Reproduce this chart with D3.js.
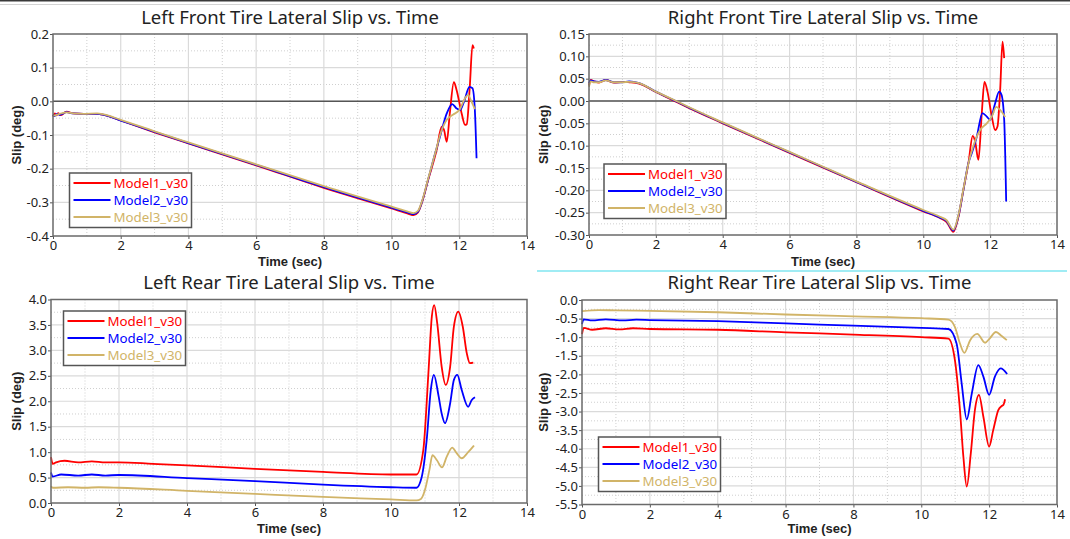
<!DOCTYPE html>
<html>
<head>
<meta charset="utf-8">
<script src="https://cdn.jsdelivr.net/npm/d3@7"></script>
<style>
	body { margin: 0; background: #fff; }
	svg { display: block; font-family: "Noto Sans", sans-serif; }
	.title { font-size: 18.5px; fill: #222; }
	.tick text { font-size: 13px; fill: #222; font-family: "Noto Sans", sans-serif; }
	.tick line { stroke: #555; }
	.axisTitle { font-family: "Liberation Sans", Arial, sans-serif; font-weight: bold; font-size: 13px; fill: #222; }
	.gridMajor { stroke: #dadada; stroke-width: 1.2; }
	.gridMinor { stroke: #cfcfcf; stroke-dasharray: 1, 2; }
	.zeroLine { stroke: #555; stroke-width: 1.5; }
	.frame { fill: none; stroke: #6a6a6a; stroke-width: 1.5; }
	.legendBox { fill: #fff; stroke: #555; stroke-width: 1.5; }
	.legendText { font-size: 13.3px; }
	.curve { fill: none; stroke-width: 1.8; }
</style>
</head>
<body>
<svg id="chart" width="1070" height="539"></svg>
<script>
var seriesNames = ["Model1_v30", "Model2_v30", "Model3_v30"];
var seriesColours = ["#ff0000", "#0000ff", "#d1b468"];
var timeTicks = [0, 2, 4, 6, 8, 10, 12, 14];

// [time (sec), slip (deg)]

// left front
var lfModel1 = [[0,-0.045],[0.05,-0.036],[0.1,-0.042],[0.15,-0.035],[0.22,-0.041],[0.4,-0.031],[0.6,-0.036],[0.9,-0.037],[1.3,-0.037],[1.5,-0.04],[2,-0.057],[3,-0.092],[4,-0.125],[6,-0.19],[8,-0.257],[10,-0.318],[10.5,-0.334],[10.65,-0.338],[10.78,-0.33],[10.9,-0.3],[11.08,-0.234],[11.33,-0.145],[11.48,-0.075],[11.55,-0.085],[11.63,-0.12],[11.72,-0.036],[11.84,0.057],[11.92,0.034],[12.07,-0.036],[12.17,-0.07],[12.22,-0.068],[12.31,0.043],[12.39,0.167],[12.43,0.157]];
var lfModel2 = [[0,-0.04],[0.05,-0.044],[0.1,-0.038],[0.2,-0.04],[0.4,-0.032],[0.6,-0.036],[0.9,-0.037],[1.3,-0.037],[1.5,-0.04],[2,-0.057],[3,-0.091],[4,-0.124],[6,-0.189],[8,-0.255],[10,-0.316],[10.5,-0.331],[10.65,-0.335],[10.78,-0.328],[10.9,-0.298],[11.08,-0.232],[11.3,-0.15],[11.43,-0.105],[11.63,-0.036],[11.79,-0.008],[11.92,-0.021],[12.02,-0.026],[12.14,-0.001],[12.3,0.043],[12.39,0.039],[12.46,-0.026],[12.51,-0.169]];
var lfModel3 = [[0,-0.043],[0.1,-0.04],[0.4,-0.033],[0.6,-0.036],[0.9,-0.037],[1.3,-0.036],[1.5,-0.039],[2,-0.055],[3,-0.089],[4,-0.122],[6,-0.187],[8,-0.252],[10,-0.313],[10.5,-0.328],[10.65,-0.332],[10.78,-0.325],[10.9,-0.296],[11.08,-0.23],[11.3,-0.15],[11.45,-0.095],[11.63,-0.055],[11.81,-0.04],[12.0,-0.026],[12.2,0.014],[12.26,0.019],[12.36,-0.001],[12.46,-0.023]];

// right front
var rfModel1 = [[0,0.035],[0.05,0.047],[0.15,0.044],[0.3,0.041],[0.5,0.047],[0.75,0.041],[1.0,0.043],[1.2,0.042],[1.5,0.039],[2,0.02],[2.5,0.002],[3,-0.016],[4,-0.05],[6,-0.116],[8,-0.182],[10,-0.247],[10.5,-0.262],[10.7,-0.271],[10.9,-0.293],[11.05,-0.26],[11.2,-0.199],[11.35,-0.139],[11.48,-0.078],[11.55,-0.09],[11.65,-0.132],[11.75,-0.027],[11.83,0.043],[11.92,0.021],[12.05,-0.035],[12.15,-0.065],[12.22,-0.057],[12.3,0.025],[12.37,0.133],[12.42,0.096]];
var rfModel2 = [[0,0.04],[0.05,0.046],[0.15,0.044],[0.3,0.043],[0.5,0.047],[0.75,0.042],[1.0,0.042],[1.2,0.044],[1.5,0.04],[2,0.021],[2.5,0.003],[3,-0.015],[4,-0.049],[6,-0.115],[8,-0.181],[10,-0.246],[10.5,-0.261],[10.7,-0.269],[10.9,-0.29],[11.05,-0.258],[11.2,-0.199],[11.35,-0.139],[11.45,-0.117],[11.6,-0.08],[11.77,-0.027],[11.9,-0.035],[12.0,-0.042],[12.15,-0.005],[12.27,0.021],[12.34,0.014],[12.42,-0.042],[12.48,-0.225]];
var rfModel3 = [[0,0.032],[0.05,0.044],[0.15,0.042],[0.3,0.042],[0.5,0.046],[0.75,0.042],[1.0,0.042],[1.2,0.043],[1.5,0.04],[2,0.021],[2.5,0.004],[3,-0.014],[4,-0.048],[6,-0.114],[8,-0.18],[10,-0.244],[10.5,-0.259],[10.7,-0.267],[10.9,-0.288],[11.05,-0.256],[11.2,-0.197],[11.35,-0.14],[11.5,-0.1],[11.7,-0.065],[11.9,-0.05],[12.05,-0.035],[12.18,-0.013],[12.3,-0.02],[12.45,-0.036]];

// left rear
var lrModel1 = [[0,0.9],[0.05,0.77],[0.15,0.8],[0.4,0.83],[0.8,0.8],[1.2,0.82],[1.6,0.8],[2,0.8],[3,0.77],[4,0.74],[6,0.67],[8,0.61],[10,0.56],[10.75,0.56],[10.95,1.04],[11.1,2.55],[11.2,3.66],[11.27,3.89],[11.36,3.53],[11.49,2.68],[11.61,2.32],[11.74,2.68],[11.85,3.47],[11.98,3.76],[12.11,3.47],[12.23,2.94],[12.32,2.75],[12.42,2.76]];
var lrModel2 = [[0,0.6],[0.05,0.52],[0.3,0.56],[0.8,0.54],[1.2,0.56],[1.6,0.54],[2,0.55],[4,0.49],[6,0.43],[8,0.36],[10,0.31],[10.75,0.3],[10.9,0.5],[11.05,1.24],[11.17,2.22],[11.26,2.52],[11.4,2.1],[11.49,1.76],[11.59,1.57],[11.74,1.96],[11.85,2.42],[11.95,2.52],[12.08,2.22],[12.27,1.89],[12.37,2.02],[12.47,2.08]];
var lrModel3 = [[0,0.33],[0.05,0.3],[0.5,0.31],[1,0.3],[1.4,0.31],[2,0.3],[4,0.24],[6,0.18],[8,0.12],[10,0.07],[10.75,0.05],[10.88,0.08],[11.0,0.26],[11.13,0.65],[11.22,0.94],[11.35,0.84],[11.5,0.7],[11.64,0.91],[11.8,1.09],[11.93,0.98],[12.08,0.88],[12.27,1.0],[12.44,1.13]];

// right rear
var rrModel1 = [[0,-0.92],[0.05,-0.75],[0.3,-0.8],[0.7,-0.76],[1.1,-0.79],[1.5,-0.76],[2,-0.78],[4,-0.8],[6,-0.87],[8,-0.93],[10,-1.0],[10.8,-1.04],[10.99,-1.61],[11.14,-2.96],[11.24,-4.21],[11.34,-5.02],[11.46,-4.12],[11.58,-2.96],[11.7,-2.55],[11.83,-3.14],[12.0,-3.94],[12.12,-3.5],[12.27,-2.96],[12.37,-2.85],[12.42,-2.82],[12.47,-2.67]];
var rrModel2 = [[0,-0.65],[0.05,-0.52],[0.3,-0.55],[0.7,-0.52],[1.2,-0.55],[1.6,-0.53],[2,-0.54],[4,-0.57],[6,-0.63],[8,-0.69],[10,-0.75],[10.8,-0.78],[11.04,-1.17],[11.19,-2.24],[11.34,-3.21],[11.49,-2.51],[11.68,-1.75],[11.83,-2.06],[12.0,-2.55],[12.17,-2.06],[12.34,-1.84],[12.53,-1.99]];
var rrModel3 = [[0,-0.3],[0.5,-0.27],[1,-0.28],[2,-0.29],[4,-0.33],[6,-0.39],[8,-0.44],[10,-0.49],[10.8,-0.53],[10.99,-0.72],[11.14,-1.17],[11.27,-1.42],[11.44,-1.08],[11.65,-0.91],[11.88,-1.15],[12.02,-1.03],[12.2,-0.86],[12.37,-0.97],[12.52,-1.08]];

var panels = [
	{ title: "Left Front Tire Lateral Slip vs. Time", series: [lfModel1, lfModel2, lfModel3],
	  yMin: -0.4, yMax: 0.2, yStep: 0.1, yFmt: ".1f", zeroLine: true,
	  left: 53, right: 527, top: 34, bottom: 236, titleY: 23.5, xTitleY: 265.5, yTitleX: 21, legendX: 69.5, legendY: 173 },
	{ title: "Right Front Tire Lateral Slip vs. Time", series: [rfModel1, rfModel2, rfModel3],
	  yMin: -0.3, yMax: 0.15, yStep: 0.05, yFmt: ".2f", zeroLine: true,
	  left: 589, right: 1057, top: 34, bottom: 235, titleY: 23.5, xTitleY: 265.5, yTitleX: 548, legendX: 604, legendY: 164 },
	{ title: "Left Rear Tire Lateral Slip vs. Time", series: [lrModel1, lrModel2, lrModel3],
	  yMin: 0, yMax: 4, yStep: 0.5, yFmt: ".1f", zeroLine: false,
	  left: 51, right: 527, top: 299.5, bottom: 503, titleY: 289, xTitleY: 533, yTitleX: 21, legendX: 63.5, legendY: 311 },
	{ title: "Right Rear Tire Lateral Slip vs. Time", series: [rrModel1, rrModel2, rrModel3],
	  yMin: -5.5, yMax: 0, yStep: 0.5, yFmt: ".1f", zeroLine: false,
	  left: 582, right: 1057, top: 300, bottom: 504.5, titleY: 289, xTitleY: 533, yTitleX: 548, legendX: 598.5, legendY: 437 }
];

var locale = d3.formatLocale({ decimal: ".", thousands: ",", grouping: [3], currency: ["", ""], minus: "-" });

var svg = d3.select("#chart");

svg.append("rect").attr("width", 1070).attr("height", 539).attr("fill", "#fff");

// window chrome bits along the top and the panel separator
svg.append("line").attr("x1", 0).attr("x2", 1070).attr("y1", 0.75).attr("y2", 0.75)
	.attr("stroke", "#3a3a3a").attr("stroke-width", 1.5);
svg.append("line").attr("x1", 0).attr("x2", 1070).attr("y1", 4.5).attr("y2", 4.5)
	.attr("stroke", "#d4d4d4").attr("stroke-width", 1);
svg.append("line").attr("x1", 537).attr("x2", 1067).attr("y1", 271).attr("y2", 271)
	.attr("stroke", "#80e6f0").attr("stroke-width", 1.5);

panels.forEach(drawPanel);

function drawPanel(p) {
	var g = svg.append("g");

	var x = d3.scaleLinear().domain([0, 14]).range([p.left, p.right]);
	var y = d3.scaleLinear().domain([p.yMin, p.yMax]).range([p.bottom, p.top]);

	var nSteps = Math.round((p.yMax - p.yMin) / p.yStep);
	var yTicks = d3.range(nSteps + 1).map(i => +(p.yMin + i * p.yStep).toFixed(4));
	var yMinor = d3.range(nSteps).map(i => p.yMin + (i + 0.5) * p.yStep);
	var xMinor = d3.range(1, 14, 2);

	// grid
	g.selectAll(".xMinor").data(xMinor).enter().append("line")
		.classed("gridMinor", true)
		.attr("x1", d => x(d)).attr("x2", d => x(d))
		.attr("y1", p.top).attr("y2", p.bottom);
	g.selectAll(".yMinor").data(yMinor).enter().append("line")
		.classed("gridMinor", true)
		.attr("x1", p.left).attr("x2", p.right)
		.attr("y1", d => y(d)).attr("y2", d => y(d));
	g.selectAll(".xMajor").data(timeTicks.slice(1, -1)).enter().append("line")
		.classed("gridMajor", true)
		.attr("x1", d => x(d)).attr("x2", d => x(d))
		.attr("y1", p.top).attr("y2", p.bottom);
	g.selectAll(".yMajor").data(yTicks.slice(1, -1)).enter().append("line")
		.classed("gridMajor", true)
		.attr("x1", p.left).attr("x2", p.right)
		.attr("y1", d => y(d)).attr("y2", d => y(d));

	if (p.zeroLine) {
		g.append("line").classed("zeroLine", true)
			.attr("x1", p.left).attr("x2", p.right)
			.attr("y1", y(0)).attr("y2", y(0));
	}

	// axes
	var yAxis = g.append("g")
		.attr("transform", "translate(" + p.left + ",0)")
		.call(d3.axisLeft(y).tickValues(yTicks).tickFormat(locale.format(p.yFmt)).tickSize(3).tickPadding(1));
	yAxis.select(".domain").remove();

	var xAxis = g.append("g")
		.attr("transform", "translate(0," + p.bottom + ")")
		.call(d3.axisBottom(x).tickValues(timeTicks).tickFormat(locale.format("d")).tickSize(3).tickPadding(2));
	xAxis.select(".domain").remove();

	// curves
	var line = d3.line()
		.x(d => x(d[0]))
		.y(d => y(d[1]))
		.curve(d3.curveMonotoneX);

	g.selectAll(".curve").data(p.series).enter().append("path")
		.classed("curve", true)
		.attr("d", line)
		.style("stroke", (d, i) => seriesColours[i]);

	g.append("rect").classed("frame", true)
		.attr("x", p.left).attr("y", p.top)
		.attr("width", p.right - p.left).attr("height", p.bottom - p.top);

	// titles
	g.append("text").classed("title", true)
		.attr("x", (p.left + p.right) / 2).attr("y", p.titleY)
		.attr("text-anchor", "middle")
		.text(p.title);

	g.append("text").classed("axisTitle", true)
		.attr("x", (p.left + p.right) / 2).attr("y", p.xTitleY)
		.attr("text-anchor", "middle")
		.text("Time (sec)");

	g.append("text").classed("axisTitle", true)
		.attr("transform", "translate(" + p.yTitleX + "," + (p.top + p.bottom) / 2 + ") rotate(-90)")
		.attr("text-anchor", "middle")
		.text("Slip (deg)");

	// legend
	var legend = g.append("g").attr("transform", "translate(" + p.legendX + "," + p.legendY + ")");
	legend.append("rect").classed("legendBox", true)
		.attr("width", 122).attr("height", 54.5);

	var row = legend.selectAll(".row").data(seriesNames).enter().append("g")
		.attr("transform", (d, i) => "translate(0," + (10 + i * 17) + ")");
	row.append("line")
		.attr("x1", 4).attr("x2", 41)
		.attr("stroke-width", 2)
		.attr("stroke", (d, i) => seriesColours[i]);
	row.append("text").classed("legendText", true)
		.attr("x", 44).attr("dy", "0.35em")
		.style("fill", (d, i) => seriesColours[i])
		.text(d => d);
}
</script>
</body>
</html>
